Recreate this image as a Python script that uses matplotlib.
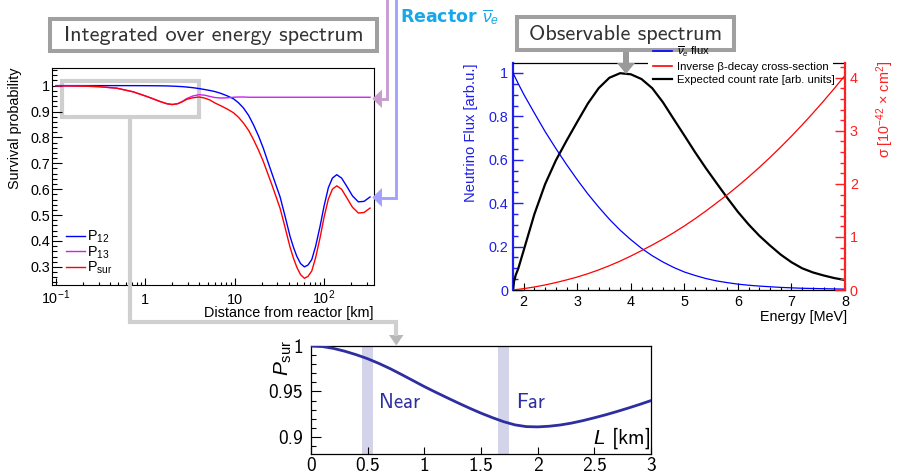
import numpy as np
import matplotlib
matplotlib.use('Agg')
import matplotlib.pyplot as plt
from matplotlib.patches import Rectangle, Polygon
from matplotlib.lines import Line2D
from matplotlib.ticker import (FixedLocator, MultipleLocator, FormatStrFormatter,
                               NullFormatter, LogLocator)

plt.rcParams['font.family'] = ['Liberation Sans', 'DejaVu Sans']
plt.rcParams['mathtext.fontset'] = 'custom'
plt.rcParams['mathtext.rm'] = 'Liberation Sans'
plt.rcParams['mathtext.it'] = 'Liberation Sans:italic'
plt.rcParams['mathtext.bf'] = 'Liberation Sans:bold'
plt.rcParams['mathtext.sf'] = 'Liberation Sans'

# ---------------- data: survival probability vs distance ----------------
distance_km = [0.1, 0.2, 0.3, 0.48, 0.73, 1.0, 1.2, 1.45, 1.74, 2.0, 2.3, 2.6, 2.9,
               3.4, 4.0, 4.6, 5.3, 6.0, 7.0, 8.3, 9.7, 11, 12.5, 14.3, 16.2, 18.5,
               20.9, 23.5, 26, 29, 32.2, 36.5, 41.6, 45.5, 49.5, 54.5, 60.2, 66,
               72.8, 80.5, 90.2, 100, 111.7, 124, 138.6, 157, 179.5, 208, 242, 280, 327]
p12 = [1.0, 1.0, 1.0, 1.0, 0.9999, 0.9997, 0.9995, 0.9992, 0.9988, 0.998, 0.997,
       0.996, 0.9945, 0.992, 0.9885, 0.985, 0.981, 0.977, 0.970, 0.960, 0.949, 0.934,
       0.914, 0.885, 0.849, 0.805, 0.758, 0.706, 0.662, 0.615, 0.570, 0.497, 0.418,
       0.375, 0.341, 0.313, 0.300, 0.307, 0.328, 0.380, 0.457, 0.535, 0.606, 0.643,
       0.656, 0.643, 0.611, 0.574, 0.551, 0.553, 0.570]
p13 = [0.9995, 0.998, 0.996, 0.990, 0.976, 0.960, 0.950, 0.939, 0.930, 0.927, 0.930,
       0.939, 0.950, 0.960, 0.965, 0.963, 0.958, 0.954, 0.952, 0.953, 0.955, 0.956,
       0.956, 0.955, 0.955, 0.955, 0.955, 0.955, 0.955, 0.955, 0.955, 0.955, 0.955,
       0.955, 0.955, 0.955, 0.955, 0.955, 0.955, 0.955, 0.955, 0.955, 0.955, 0.955,
       0.955, 0.955, 0.955, 0.955, 0.955, 0.955, 0.955]
psur = [0.9995, 0.998, 0.996, 0.990, 0.976, 0.960, 0.950, 0.939, 0.930, 0.927, 0.930,
        0.938, 0.947, 0.953, 0.956, 0.952, 0.944, 0.933, 0.922, 0.909, 0.895, 0.878,
        0.856, 0.827, 0.792, 0.750, 0.707, 0.659, 0.618, 0.571, 0.526, 0.454, 0.376,
        0.333, 0.299, 0.270, 0.256, 0.263, 0.284, 0.336, 0.413, 0.492, 0.562, 0.600,
        0.613, 0.600, 0.567, 0.530, 0.508, 0.510, 0.527]
left_legend = ['P$_{12}$', 'P$_{13}$', 'P$_{\\mathrm{sur}}$']
distance_ticks = [0.1, 1, 10, 100]
distance_ticklabels = ['$10^{-1}$', '1', '10', '$10^{2}$']

# ---------------- data: spectrum ----------------
energy_mev = [1.8, 1.82, 1.85, 1.9, 2.0, 2.2, 2.4, 2.6, 2.8, 3.0, 3.2, 3.4, 3.6, 3.8,
              4.0, 4.2, 4.4, 4.6, 4.8, 5.0, 5.2, 5.4, 5.6, 5.8, 6.0, 6.2, 6.4, 6.6,
              6.8, 7.0, 7.2, 7.4, 7.6, 7.8, 8.0]
flux = [1.0, 0.99, 0.975, 0.95, 0.902, 0.815, 0.73, 0.652, 0.578, 0.508, 0.442, 0.382,
        0.326, 0.276, 0.232, 0.192, 0.158, 0.129, 0.104, 0.083, 0.067, 0.053, 0.042,
        0.034, 0.027, 0.022, 0.018, 0.015, 0.012, 0.010, 0.008, 0.007, 0.006, 0.005,
        0.004]
cross_section = [0.0, 0.003, 0.007, 0.013, 0.026, 0.057, 0.095, 0.14, 0.19, 0.245,
                 0.308, 0.379, 0.458, 0.545, 0.64, 0.743, 0.848, 0.96, 1.08, 1.208,
                 1.344, 1.488, 1.64, 1.795, 1.96, 2.132, 2.312, 2.5, 2.696, 2.9,
                 3.113, 3.334, 3.563, 3.8, 4.045]
count_rate = [0.0, 0.04, 0.068, 0.10, 0.183, 0.35, 0.488, 0.597, 0.688, 0.775, 0.86,
              0.93, 0.978, 0.999, 0.994, 0.972, 0.93, 0.865, 0.788, 0.712, 0.635, 0.562,
              0.493, 0.425, 0.36, 0.302, 0.25, 0.205, 0.163, 0.128, 0.100, 0.081, 0.067,
              0.055, 0.046]
spectrum_legend = [r'$\overline{\nu}_{e}$ flux', 'Inverse \u03b2-decay cross-section',
                   'Expected count rate [arb. units]']

# ---------------- data: short-baseline zoom ----------------
baseline_km = [0.0, 0.1, 0.2, 0.3, 0.4, 0.5, 0.6, 0.7, 0.8, 0.9, 1.0, 1.1, 1.2, 1.3,
               1.4, 1.5, 1.6, 1.7, 1.8, 1.9, 2.0, 2.1, 2.2, 2.3, 2.4, 2.5, 2.6, 2.7,
               2.8, 2.9, 3.0]
psur_short = [1.0, 0.9994, 0.9973, 0.9942, 0.9904, 0.9860, 0.9808, 0.9750, 0.9686,
              0.9620, 0.9554, 0.9492, 0.9432, 0.9373, 0.9316, 0.9262, 0.9213, 0.9168,
              0.9133, 0.9114, 0.9111, 0.9118, 0.9132, 0.9153, 0.9180, 0.9211, 0.9244,
              0.9280, 0.9318, 0.9358, 0.9400]
near_band = [0.45, 0.55]
far_band = [1.65, 1.75]
detector_names = ['Near', 'Far']

# ---------------- figure ----------------
W, H = 897, 476
fig = plt.figure(figsize=(W / 100, H / 100), dpi=100)


def rect(x0, y0, x1, y1):
    return [x0 / W, 1 - y1 / H, (x1 - x0) / W, (y1 - y0) / H]


# ===== left panel =====
ax1 = fig.add_axes(rect(52, 68, 374, 285))
ax1.plot(distance_km, p12, color='#0000ff', lw=1.0, zorder=3)
ax1.plot(distance_km, p13, color='#cc22ee', lw=1.0, zorder=3)
ax1.plot(distance_km, psur, color='#ff0000', lw=1.0, zorder=4)
ax1.set_xscale('log')
ax1.set_xlim(0.0902, 362)
ax1.set_ylim(0.23, 1.068)
ax1.xaxis.set_major_locator(FixedLocator(distance_ticks))
ax1.set_xticklabels(distance_ticklabels)
ax1.xaxis.set_minor_locator(LogLocator(base=10, subs=np.arange(2, 10), numticks=20))
ax1.xaxis.set_minor_formatter(NullFormatter())
ax1.yaxis.set_major_locator(MultipleLocator(0.1))
ax1.yaxis.set_minor_locator(MultipleLocator(0.02))
ax1.yaxis.set_major_formatter(FormatStrFormatter('%g'))
ax1.tick_params(which='both', direction='in', top=False, right=False, labelsize=10.4)
ax1.tick_params(axis='y', which='major', length=7.2, width=0.8, pad=1.5)
ax1.tick_params(axis='y', which='minor', length=3.6, width=0.8)
ax1.tick_params(axis='x', which='major', length=4.7, width=0.8, pad=13.8)
ax1.tick_params(axis='x', which='minor', length=2.4, width=0.8)
for lab in ax1.get_xticklabels():
    lab.set_verticalalignment('baseline')
for s in ax1.spines.values():
    s.set_linewidth(0.8)
ax1.text(-0.115, 1.0, 'Survival probability', transform=ax1.transAxes, rotation=90,
         ha='center', va='top', fontsize=10.4)
ax1.text(0.997, -0.127, 'Distance from reactor [km]', transform=ax1.transAxes,
         ha='right', va='center', fontsize=10.4)
h1 = [Line2D([], [], color=c, lw=1.0) for c in ['#0000ff', '#cc22ee', '#ff0000']]
ax1.legend(h1, left_legend, loc='lower left', bbox_to_anchor=(0.045, 0.04),
           frameon=False, fontsize=10.4, handlelength=1.25, handletextpad=0.2,
           labelspacing=-0.05, borderpad=0, borderaxespad=0)

# ===== right panel =====
blue_ax = '#2020e8'
red_ax = '#ff2020'
ax2 = fig.add_axes(rect(513, 63, 845, 290))
ax3 = ax2.twinx()
ax2.plot(energy_mev, flux, color='#0000ff', lw=0.9, zorder=3)
ax2.plot(energy_mev, count_rate, color='black', lw=1.6, zorder=4)
ax3.plot(energy_mev, cross_section, color='#ff0000', lw=0.9)
ax2.set_xlim(1.8, 8.0)
ax2.set_ylim(0, 1.046)
ax3.set_ylim(0, 4.28)
ax2.xaxis.set_major_locator(MultipleLocator(1))
ax2.xaxis.set_minor_locator(MultipleLocator(0.2))
ax2.yaxis.set_major_locator(MultipleLocator(0.2))
ax2.yaxis.set_minor_locator(MultipleLocator(0.05))
ax2.yaxis.set_major_formatter(FormatStrFormatter('%g'))
ax3.yaxis.set_major_locator(MultipleLocator(1))
ax3.yaxis.set_minor_locator(MultipleLocator(0.2))
ax2.tick_params(which='both', direction='in', labelsize=10.4)
ax2.tick_params(axis='x', which='major', length=4.9, width=0.8, pad=3.5)
ax2.tick_params(axis='x', which='minor', length=2.5, width=0.8)
ax2.tick_params(axis='y', which='major', length=7.2, width=1.0, colors=blue_ax, pad=3.5)
ax2.tick_params(axis='y', which='minor', length=3.6, width=1.0, colors=blue_ax)
ax3.tick_params(which='both', direction='in', labelsize=10.4, colors=red_ax)
ax3.tick_params(axis='y', which='major', length=7.2, width=1.0, pad=3.5)
ax3.tick_params(axis='y', which='minor', length=3.6, width=1.0)
ax2.spines['left'].set_color(blue_ax)
ax2.spines['left'].set_linewidth(1.6)
ax2.spines['right'].set_visible(False)
ax2.spines['top'].set_linewidth(0.9)
ax2.spines['bottom'].set_linewidth(0.9)
for k in ['left', 'top', 'bottom']:
    ax3.spines[k].set_visible(False)
ax3.spines['right'].set_color(red_ax)
ax3.spines['right'].set_linewidth(1.6)
ax2.text(-0.128, 1.0, 'Neutrino Flux [arb.u.]', transform=ax2.transAxes, rotation=90,
         ha='center', va='top', fontsize=10.6, color=blue_ax)
ax3.text(1.12, 1.01, '\u03c3 [10$^{-42}$ \u00d7 cm$^{2}$]', transform=ax2.transAxes,
         rotation=90, ha='center', va='top', fontsize=10.4, color=red_ax)
ax2.text(1.006, -0.119, 'Energy [MeV]', transform=ax2.transAxes, ha='right',
         va='center', fontsize=10.4)

# ===== bottom panel =====
curve_col = '#2e2ea0'
ax4 = fig.add_axes(rect(311, 346, 651, 454))
for band in (near_band, far_band):
    ax4.axvspan(band[0], band[1], color='#d3d3ea', lw=0, zorder=1)
ax4.plot(baseline_km, psur_short, color=curve_col, lw=2.0, zorder=3)
ax4.set_xlim(0, 3)
ax4.set_ylim(0.8813, 1.0)
ax4.xaxis.set_major_locator(MultipleLocator(0.5))
ax4.yaxis.set_major_locator(FixedLocator([0.9, 0.95, 1.0]))
ax4.yaxis.set_minor_locator(MultipleLocator(0.01))
ax4.xaxis.set_major_formatter(FormatStrFormatter('%g'))
ax4.yaxis.set_major_formatter(FormatStrFormatter('%g'))
ax4.tick_params(which='both', direction='in', top=False, right=False)
ax4.tick_params(axis='y', which='major', length=7, width=0.8, pad=5.5)
ax4.tick_params(axis='y', which='minor', length=3.6, width=0.8)
ax4.tick_params(axis='x', which='major', length=5, width=0.8, pad=2)
for lab in ax4.get_xticklabels() + ax4.get_yticklabels():
    lab.set_family('cmss10')
    lab.set_fontsize(14)
for s in ax4.spines.values():
    s.set_linewidth(0.9)
ax4.text(-0.082, 0.889, r'$P_{\mathrm{sur}}$', transform=ax4.transAxes, rotation=90,
         ha='center', va='center', fontsize=15)
ax4.text(0.997, 0.093, r'$L$ [km]', transform=ax4.transAxes, ha='right',
         va='baseline', fontsize=15, family='cmss10')
for name, xpos in zip(detector_names, [0.2, 0.603]):
    ax4.text(xpos, 0.423, name, transform=ax4.transAxes, ha='left', va='baseline',
             fontsize=15, family='cmss10', color=curve_col, zorder=5)

# ===== overlay annotations (pixel coordinates) =====
ov = fig.add_axes([0, 0, 1, 1], zorder=20)
ov.set_xlim(0, W)
ov.set_ylim(H, 0)
ov.axis('off')
ov.patch.set_alpha(0)

box_ec = '#a0a0a0'
ov.add_patch(Rectangle((49.7, 18.7), 327.6, 32.6, fc='white', ec=box_ec, lw=2.9, zorder=1))
ov.text(213.5, 35.5, 'Integrated over energy spectrum', ha='center', va='center',
        fontsize=16, family='cmss10', color='#333333', zorder=2)
ov.add_patch(Rectangle((517, 17), 217, 33, fc='white', ec=box_ec, lw=2.9, zorder=1))
ov.text(625.5, 34, 'Observable spectrum', ha='center', va='center',
        fontsize=16, family='cmss10', color='#333333', zorder=2)
# arrow from "Observable spectrum" box to spectrum peak
ov.add_patch(Rectangle((623, 52), 5.6, 11.5, fc='#9a9a9a', ec='none', zorder=2))
ov.add_patch(Polygon([(617, 63), (635, 63), (626, 74)], closed=True, fc='#9a9a9a',
                     ec='none', zorder=2))

# spectrum legend (drawn above the box, hides the frame line behind it)
ov.add_patch(Rectangle((648, 61.3), 185, 3.4, fc='white', ec='none', zorder=2))
h2 = [Line2D([], [], color='#0000ff', lw=1.2), Line2D([], [], color='#ff0000', lw=1.2),
      Line2D([], [], color='black', lw=1.6)]
leg2 = ov.legend(h2, spectrum_legend, loc='upper left',
                 bbox_to_anchor=(653 / W, 1 - 44 / H), bbox_transform=fig.transFigure,
                 frameon=False, fontsize=8.2, handlelength=1.65, handletextpad=0.45,
                 labelspacing=0.3, borderpad=0, borderaxespad=0)
leg2.set_zorder(5)

# Reactor label
ov.text(400, 17, r'Reactor $\overline{\nu}_{e}$', ha='left', va='center', fontsize=12.5,
        family='DejaVu Sans', fontweight='bold', color='#18a8ea')

# purple connector to P13 plateau
pc = '#c99dd0'
ov.add_line(Line2D([387, 387, 381], [-5, 98.7, 98.7], color=pc, lw=2.1,
                   solid_joinstyle='miter', solid_capstyle='butt'))
ov.add_patch(Polygon([(372.3, 98.7), (382, 89.5), (382, 108)], closed=True, fc=pc, ec='none'))
# blue connector to P12 far region
bc = '#a3a3ff'
ov.add_line(Line2D([396, 396, 381], [-5, 197.8, 197.8], color=bc, lw=2.1,
                   solid_joinstyle='miter', solid_capstyle='butt'))
ov.add_patch(Polygon([(372.3, 197.5), (382, 188), (382, 207)], closed=True, fc=bc, ec='none'))

# gray highlight rectangle in left panel (below curves) and connector to bottom panel
gc = '#cfcfcf'
hl = Rectangle((62.2, 80.5), 136.3, 36.3, fill=False, ec=gc, lw=3.0,
               transform=ov.transData, zorder=1, clip_on=False)
ax1.add_patch(hl)
ov.add_line(Line2D([130.3, 130.3, 396, 396], [118.5, 322, 322, 336], color=gc, lw=3.0,
                   solid_joinstyle='miter', solid_capstyle='butt'))
ov.add_patch(Polygon([(389, 335), (403.5, 335), (396.3, 345.5)], closed=True,
                     fc='#b8b8b8', ec='none'))

fig.savefig('out.png', dpi=100)
